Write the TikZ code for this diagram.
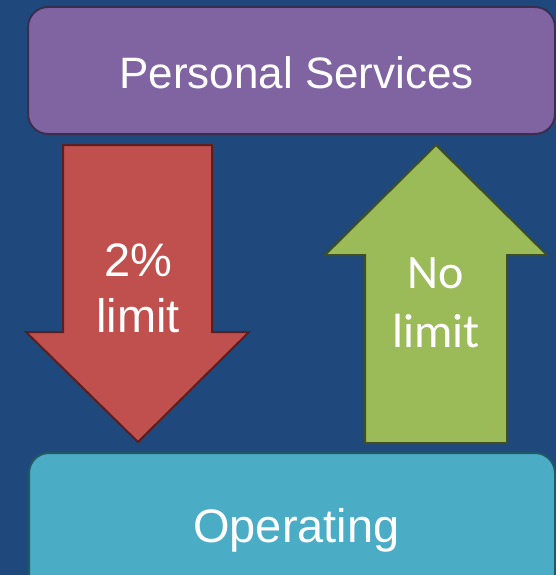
\documentclass[tikz,border=0pt]{standalone}
\usepackage{fontspec}
\newfontfamily\headfont{Liberation Sans}
\newfontfamily\bodyfont{Carlito}
\usetikzlibrary{positioning}

\definecolor{slidebg}{HTML}{1F497D}
\definecolor{psfill}{HTML}{8064A2}
\definecolor{psline}{HTML}{3B2D4F}
\definecolor{opfill}{HTML}{4BACC6}
\definecolor{opline}{HTML}{215866}
\definecolor{downfill}{HTML}{C0504D}
\definecolor{downline}{HTML}{5A1F1E}
\definecolor{upfill}{HTML}{9BBB59}
\definecolor{upline}{HTML}{3F4F22}

\begin{document}
\begin{tikzpicture}[x=1pt, y=-1pt, line join=miter]
    % Define styles for the boxes, the block arrows and their labels
    \tikzstyle{box} = [rounded corners=20pt, line width=2pt]
    \tikzstyle{blockarrow} = [line width=2pt]
    \tikzstyle{label} = [text=white, inner sep=0pt, align=center]

    % Slide background
    \fill[slidebg] (0,0) rectangle (556,575);
    \useasboundingbox (0,0) rectangle (556,575);
    \clip (0,0) rectangle (556,575);

    % The two budget boxes
    \draw[box, fill=psfill, draw=psline] (28,7) rectangle (555,134);
    \draw[box, fill=opfill, draw=opline] (29,453) rectangle (555,600);

    % Down arrow (left) and up arrow (right)
    \draw[blockarrow, fill=downfill, draw=downline]
        (63,145) -- (212,145) -- (212,332) -- (249,332) -- (138,442)
        -- (26,332) -- (63,332) -- cycle;
    \draw[blockarrow, fill=upfill, draw=upline]
        (436,145) -- (547,255) -- (507,255) -- (507,443) -- (365,443)
        -- (365,255) -- (325,255) -- cycle;

    % Labels
    \node[label, anchor=base, font=\headfont\fontsize{44}{50}\selectfont] (pslabel) at (296.5,89) {Personal Services};
    \node[label, anchor=base, font=\headfont\fontsize{47}{54}\selectfont] (oplabel) at (296.5,542) {Operating};
    \node[label, font=\headfont\fontsize{47}{56}\selectfont] (downlabel) at (138,288) {2\%\\limit};
    \node[label, font=\bodyfont\fontsize{48}{59}\selectfont] (uplabel) at (436,303) {No\\limit};
\end{tikzpicture}
\end{document}
